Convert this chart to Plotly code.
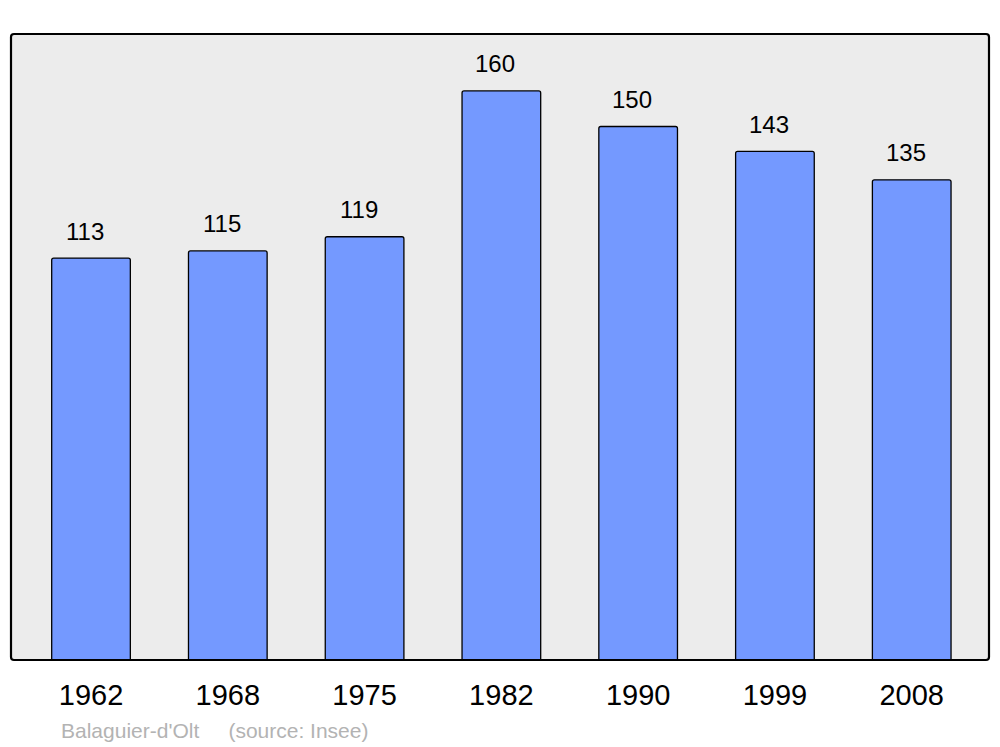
import plotly.graph_objects as go

years = ["1962", "1968", "1975", "1982", "1990", "1999", "2008"]
population = [113, 115, 119, 160, 150, 143, 135]
place = "Balaguier-d'Olt"
source = "(source: Insee)"

# the page body has an 8px margin, so the figure is a bit smaller than the window
W, H = 992, 739
ml, mr, mt, mb = 3, 11, 26, 87
pw, ph = W - ml - mr, H - mt - mb

fig = go.Figure()
fig.add_trace(go.Bar(
    x=years, y=population, width=0.575,
    marker=dict(color="#7499ff", line=dict(color="black", width=1.3), cornerradius=2),
    hoverinfo="x+y",
))

for i, v in enumerate(population):
    fig.add_annotation(x=i, y=v, text=str(v), showarrow=False,
                       yanchor="middle", yshift=27, xshift=-6,
                       font=dict(size=24, color="black", family="Liberation Sans, Arial"))

fig.add_annotation(xref="paper", yref="paper", x=(51 - ml) / pw, y=-(722 - mt - ph) / ph,
                   xanchor="left", yanchor="middle", showarrow=False,
                   text=place + "\u00a0" * 5 + source,
                   font=dict(size=21, color="#b3b3b3", family="Liberation Sans, Arial"))

# rounded frame around the plot area
r = 3
rx, ry = r / pw, r / ph
path = (f"M {rx},0 L {1-rx},0 Q 1,0 1,{ry} L 1,{1-ry} Q 1,1 {1-rx},1 "
        f"L {rx},1 Q 0,1 0,{1-ry} L 0,{ry} Q 0,0 {rx},0 Z")
fig.add_shape(type="path", xref="paper", yref="paper", path=path,
              line=dict(color="black", width=2.2), layer="above")

fig.update_layout(
    width=W, height=H,
    margin=dict(l=ml, r=mr, t=mt, b=mb),
    paper_bgcolor="white", plot_bgcolor="#ececec",
    showlegend=False,
    font=dict(family="Liberation Sans, Arial", color="black"),
)
fig.update_xaxes(type="category", range=[-0.585, 6.565], showgrid=False, zeroline=False,
                 showline=False, ticks="outside", ticklen=9, tickcolor="rgba(0,0,0,0)",
                 tickfont=dict(size=29, color="black"))
fig.update_yaxes(range=[0, 176], visible=False, showgrid=False, zeroline=False)

fig.write_html("out.html")
